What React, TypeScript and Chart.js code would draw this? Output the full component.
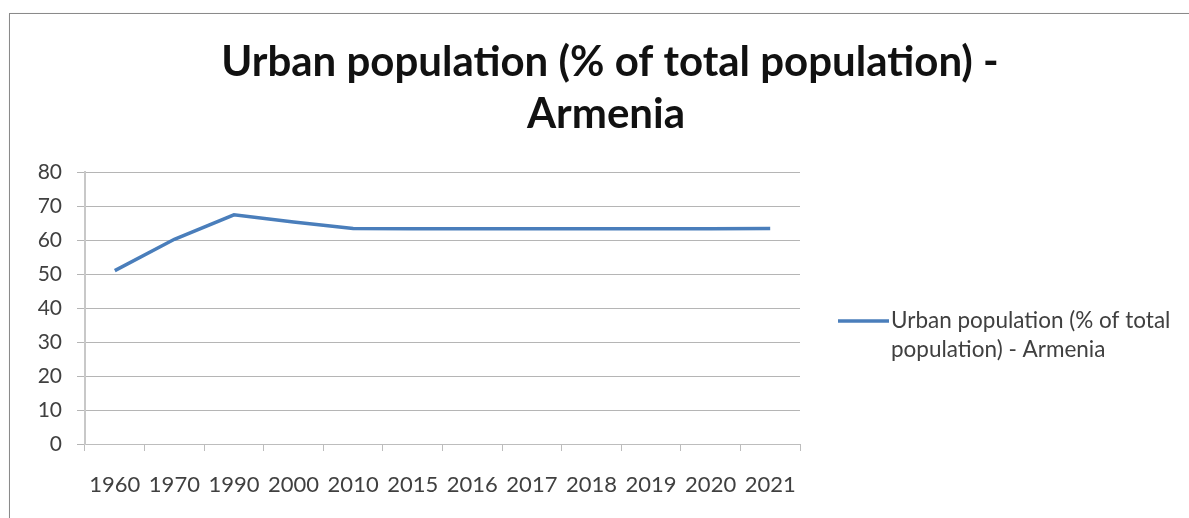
import React, { useEffect, useRef } from "react";
import { Chart, registerables } from "chart.js";

Chart.register(...registerables);

const categories = ["1960", "1970", "1990", "2000", "2010", "2015", "2016", "2017", "2018", "2019", "2020", "2021"];
const urbanShare = [51.0, 60.2, 67.4, 65.3, 63.4, 63.3, 63.3, 63.3, 63.3, 63.3, 63.3, 63.4];
const seriesLabel = "Urban population (% of total population) - Armenia";
const titleLines = ["Urban population (% of total population) -", "Armenia"];
const legendLines = ["Urban population (% of total", "population) - Armenia"];
const yTicks = [0, 10, 20, 30, 40, 50, 60, 70, 80];

const FONT = "Lato, 'Noto Sans', sans-serif";
const LINE_COLOR = "#4A7EBB";

const overlayPlugin = {
  id: "overlay",
  afterDraw(chart: any) {
    const ctx = chart.ctx;
    ctx.save();
    ctx.fillStyle = "#111";
    ctx.font = `bold 42px ${FONT}`;
    ctx.textAlign = "center";
    ctx.textBaseline = "alphabetic";
    ctx.fillText(titleLines[0], 610, 76);
    ctx.fillText(titleLines[1], 606, 128);

    // legend
    ctx.strokeStyle = LINE_COLOR;
    ctx.lineWidth = 3.5;
    ctx.beginPath();
    ctx.moveTo(838, 321);
    ctx.lineTo(889, 321);
    ctx.stroke();
    ctx.fillStyle = "#404040";
    ctx.font = `22.5px ${FONT}`;
    ctx.textAlign = "left";
    ctx.fillText(legendLines[0], 891, 328);
    ctx.fillText(legendLines[1], 891, 357);
    ctx.restore();
  },
};

export default function App() {
  const ref = useRef<HTMLCanvasElement>(null);
  useEffect(() => {
    const chart = new Chart(ref.current!, {
      type: "line",
      data: {
        labels: categories,
        datasets: [
          {
            label: seriesLabel,
            data: urbanShare,
            borderColor: LINE_COLOR,
            backgroundColor: LINE_COLOR,
            borderWidth: 3.5,
            pointRadius: 0,
            tension: 0,
          },
        ],
      },
      options: {
        animation: false,
        responsive: false,
        layout: { padding: { top: 172, right: 389, left: 0, bottom: 0 } },
        plugins: {
          legend: { display: false },
          title: { display: false },
          tooltip: { enabled: false },
        },
        scales: {
          x: {
            offset: true,
            grid: {
              offset: true,
              drawOnChartArea: false,
              drawTicks: true,
              tickLength: 7,
              color: "#bdbdbd",
            },
            border: { color: "#bdbdbd", width: 1 },
            ticks: {
              color: "#404040",
              font: { family: FONT, size: 22 },
              padding: 21,
              maxRotation: 0,
              autoSkip: false,
            },
            afterFit(scale: any) {
              scale.height = 74;
            },
          },
          y: {
            min: 0,
            max: 80,
            afterBuildTicks(scale: any) {
              scale.ticks = yTicks.map((v) => ({ value: v }));
            },
            grid: { color: "#b5b5b5", tickLength: 8, lineWidth: 1 },
            border: { color: "#c8c8c8", width: 2 },
            ticks: {
              color: "#404040",
              font: { family: FONT, size: 21 },
              padding: 15,
            },
            afterFit(scale: any) {
              scale.width = 85;
            },
          },
        },
      },
      plugins: [overlayPlugin],
    });
    return () => chart.destroy();
  }, []);

  return (
    <div style={{ position: "absolute", left: 0, top: 0, width: 1189, height: 518, overflow: "hidden", background: "#fff" }}>
      <div
        style={{
          position: "absolute",
          left: 9,
          top: 13,
          width: 1400,
          height: 800,
          border: "1px solid #8a8a8a",
          boxShadow: "1px 1px 2px rgba(0,0,0,0.25)",
        }}
      />
      <canvas ref={ref} width={1189} height={518} style={{ position: "absolute", left: 0, top: 0 }} />
    </div>
  );
}
